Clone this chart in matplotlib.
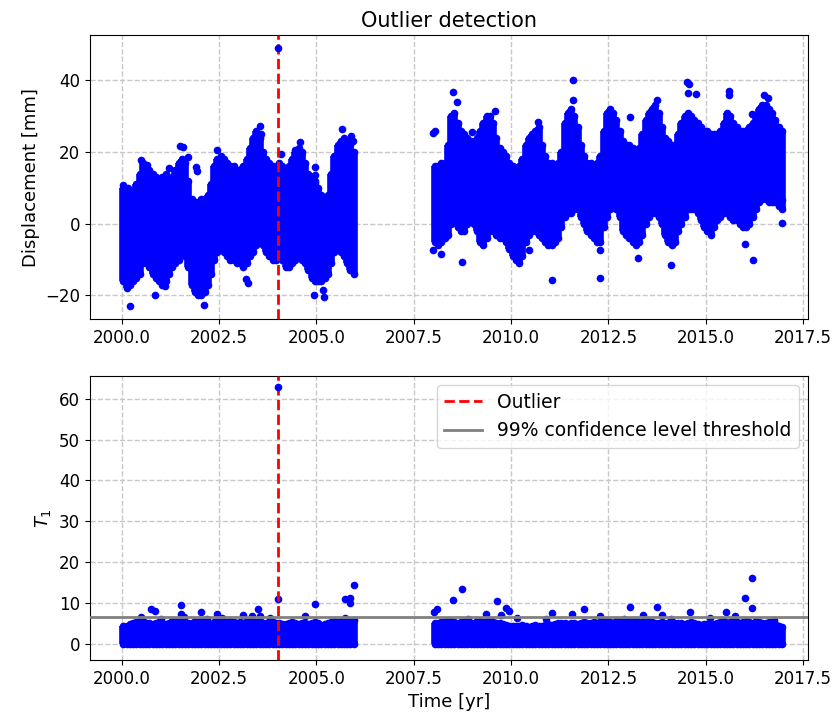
import numpy as np
import matplotlib
matplotlib.use("Agg")
import matplotlib.pyplot as plt

# monthly envelope of the daily displacement cloud [mm]
# part 1: Jan 2000 - Dec 2005, part 2: Jan 2008 - Dec 2016
disp1_hi = [10, 8, 7, 9, 11, 14, 17, 16, 15, 14, 13, 12,
            13, 14, 12, 13, 15, 17, 18, 17, 12, 7, 6, 6,
            7, 7, 8, 11, 16, 18, 19, 18, 17, 16, 16, 15,
            15, 16, 18, 21, 24, 26, 24, 20, 18, 17, 16, 16,
            17, 16, 15, 16, 18, 20, 21, 20, 17, 14, 13, 12,
            10, 8, 7, 8, 14, 19, 22, 23, 24, 23, 22, 20]
disp1_lo = [-16, -18, -17, -16, -15, -14, -11, -10, -12, -14, -15, -16,
            -17, -16, -14, -12, -11, -10, -8, -9, -12, -17, -19, -20,
            -20, -19, -17, -14, -10, -8, -7, -8, -9, -10, -10, -11,
            -11, -12, -11, -9, -8, -6, -5, -6, -8, -9, -10, -10,
            -9, -10, -12, -12, -11, -10, -9, -10, -11, -13, -15, -16,
            -16, -16, -15, -14, -11, -8, -7, -8, -9, -11, -13, -14]
disp2_hi = [16, 16, 17, 17, 22, 30, 31, 28, 26, 25, 24, 23,
            22, 24, 26, 28, 30, 30, 28, 24, 21, 20, 19, 17,
            16, 15, 16, 18, 22, 24, 25, 26, 27, 22, 19, 17,
            17, 16, 17, 20, 28, 31, 32, 30, 27, 22, 19, 17,
            17, 16, 17, 19, 26, 31, 32, 31, 29, 26, 23, 22,
            22, 21, 20, 21, 25, 29, 31, 32, 33, 31, 27, 24,
            23, 22, 22, 25, 28, 30, 31, 30, 29, 28, 27, 26,
            26, 25, 25, 25, 26, 28, 31, 30, 28, 27, 26, 26,
            26, 27, 28, 30, 32, 33, 33, 32, 31, 29, 27, 26]
disp2_lo = [-5, -6, -5, -4, -3, 0, 1, -1, -2, -2, 0, 1,
            0, -2, -5, -6, -4, -2, -1, -3, -4, -4, -5, -7,
            -9, -10, -11, -9, -5, -3, -2, -2, -3, -4, -5, -6,
            -6, -5, -4, -1, 2, 3, 3, 4, 4, 2, 0, -2,
            -3, -4, -5, -5, -1, 2, 4, 6, 4, 2, -2, -3,
            -4, -5, -6, -5, -3, 0, 2, 3, 3, 2, 0, -3,
            -5, -6, -5, -2, 0, 2, 4, 4, 4, 3, 1, -1,
            -2, -3, -1, 1, 2, 3, 3, 2, 1, 1, 0, -1,
            -1, 0, 2, 4, 6, 7, 7, 6, 6, 6, 5, 4]

# isolated displacement points outside the dense cloud
disp_pt_t = [2000.02, 2000.15, 2000.2, 2000.5, 2000.65, 2000.85, 2001.1, 2001.2,
             2001.5, 2001.56, 2001.7, 2001.9, 2001.92, 2002.1, 2002.45, 2003.2,
             2003.25, 2003.55, 2003.58, 2004.08, 2004.45, 2004.58, 2004.96,
             2004.96, 2004.96, 2004.95, 2005.2, 2005.17, 2005.65, 2005.9, 2005.93,
             2008.0, 2008.05, 2008.0, 2008.2, 2008.5, 2008.6, 2008.74, 2009.0,
             2009.6, 2010.45, 2010.7, 2011.05, 2011.58, 2011.6, 2012.29, 2012.28,
             2013.05, 2013.25, 2013.76, 2014.12, 2014.53, 2014.56, 2014.55,
             2014.75, 2015.6, 2015.6, 2016.0, 2016.21, 2016.2, 2016.5, 2016.6,
             2016.97, 2016.97]
disp_pt_v = [10.8, 10, -23, 17.7, 16.5, -20, -17.5, 15.5,
             21.7, 21.5, 18.6, 15.8, 14.8, -22.8, 20.5, -15.5,
             -16.5, 27.4, 25, 19.5, 20.6, 22.8, 15.8,
             13.5, 11.5, -20, -20.5, -18.5, 26.4, 24.5, 23,
             25.3, 25.8, -7.4, -8.4, 36.7, 34, -10.7, 25.5,
             31.4, -7.3, 28.4, -15.8, 40, 34.6, -15, -7.4,
             29.8, -9.5, 34.4, -11.4, 39.5, 39, 36.5,
             36.3, 37, 35.8, -5.6, -10.2, 30.7, 36, 35,
             0.2, 6.5]

# monthly upper edge of the dense T1 band (lower edge is 0)
t1_1_top = [4.3, 4.5, 4.8, 5.0, 5.3, 5.8, 5.6, 5.2, 5.0, 4.8, 5.1, 5.3,
            5.0, 4.9, 5.2, 5.5, 5.6, 5.4, 5.8, 5.3, 5.0, 5.2, 5.5, 5.4,
            5.6, 5.2, 5.0, 4.9, 5.3, 5.5, 5.2, 5.0, 5.4, 5.6, 5.3, 5.1,
            5.4, 5.2, 5.5, 5.7, 5.6, 5.3, 5.5, 5.1, 5.0, 5.2, 5.4, 5.0,
            5.2, 4.9, 4.8, 5.0, 5.3, 5.1, 4.9, 5.2, 5.0, 4.8, 5.1, 5.3,
            5.0, 4.7, 4.9, 5.2, 5.4, 5.6, 5.3, 5.5, 5.7, 5.4, 5.6, 5.8]
t1_2_top = [5.2, 5.0, 5.4, 5.6, 5.8, 5.5, 5.3, 5.1, 5.4, 5.6, 5.3, 5.0,
            5.2, 5.5, 5.7, 5.4, 5.6, 5.8, 5.3, 5.1, 5.0, 4.8, 4.6, 4.5,
            4.4, 4.3, 4.5, 4.6, 4.4, 4.2, 4.5, 4.7, 4.5, 4.3, 4.6, 4.8,
            4.7, 4.9, 5.0, 5.2, 5.1, 4.9, 5.2, 5.0, 4.8, 5.1, 5.3, 5.0,
            5.2, 5.4, 5.1, 5.3, 5.5, 5.6, 5.4, 5.2, 5.5, 5.7, 5.4, 5.3,
            5.5, 5.6, 5.8, 5.4, 5.3, 5.5, 5.7, 5.4, 5.2, 5.0, 5.3, 5.1,
            5.0, 4.8, 5.0, 5.2, 5.1, 4.9, 5.1, 5.3, 5.0, 4.8, 4.7, 4.9,
            4.8, 4.6, 4.9, 5.1, 5.3, 5.5, 5.2, 5.4, 5.6, 5.3, 5.1, 5.4,
            5.6, 5.4, 5.2, 5.5, 5.3, 5.0, 5.2, 5.4, 5.1, 4.8, 4.5, 4.2]

# T1 points sticking out of the band
t1_pt_t = [2000.5, 2000.74, 2000.85, 2001.0, 2001.52, 2001.52, 2001.6, 2002.04,
           2002.2, 2002.45, 2002.58, 2003.12, 2003.35, 2003.5, 2003.56, 2003.8,
           2004.0, 2004.7, 2004.97, 2005.74, 2005.87, 2005.87, 2005.96, 2005.74,
           2008.03, 2008.11, 2008.5, 2008.74, 2008.9, 2009.35, 2009.63, 2009.74,
           2009.86, 2009.95, 2010.15, 2010.9, 2011.06, 2011.57, 2011.87, 2012.28,
           2012.9, 2013.06, 2013.4, 2013.76, 2013.88, 2014.1, 2014.6, 2015.1,
           2015.52, 2015.75, 2016.0, 2016.2, 2016.2, 2016.76]
t1_pt_v = [6.6, 8.6, 8.0, 6.2, 9.5, 7.2, 6.5, 7.7,
           6.0, 7.2, 6.4, 7.0, 6.8, 8.6, 6.9, 6.3,
           11.1, 6.9, 9.7, 11.0, 11.2, 10.0, 14.5, 6.4,
           7.7, 8.6, 10.8, 13.4, 6.0, 7.3, 10.4, 7.0,
           8.7, 8.0, 6.3, 6.0, 7.6, 7.3, 8.5, 6.9,
           6.2, 9.0, 7.0, 9.0, 7.0, 6.1, 7.8, 6.3,
           7.8, 6.8, 11.3, 16.2, 8.8, 5.9]

outlier_t = 2004.0
outlier_disp = 49.0
outlier_t1 = 62.8
threshold = 6.63

t1_month = 2000 + (np.arange(len(disp1_hi)) + 0.5) / 12
t2_month = 2008 + (np.arange(len(disp2_hi)) + 0.5) / 12
t_month = np.concatenate([t1_month, t2_month])
disp_hi = np.array(disp1_hi + disp2_hi, dtype=float)
disp_lo = np.array(disp1_lo + disp2_lo, dtype=float)
t1_top = np.array(t1_1_top + t1_2_top)

blue = "#0000ff"
dot = 5.5  # marker diameter in points
s_dot = dot ** 2

fig, (ax1, ax2) = plt.subplots(2, 1, figsize=(8.4, 7.18), dpi=100)
fig.subplots_adjust(left=0.107, right=0.962, top=0.951, bottom=0.081, hspace=0.2)

# top panel: displacement cloud (dense range per month + rounded edges)
ax1.vlines(t_month, disp_lo, disp_hi, color=blue, lw=dot, zorder=2)
ax1.scatter(t_month, disp_hi, s=s_dot, color=blue, lw=0, zorder=2)
ax1.scatter(t_month, disp_lo, s=s_dot, color=blue, lw=0, zorder=2)
ax1.scatter(disp_pt_t, disp_pt_v, s=s_dot, color=blue, lw=0, zorder=2)
ax1.axvline(outlier_t, color="red", ls="--", lw=2, zorder=3)
ax1.scatter([outlier_t], [outlier_disp], s=s_dot, color=blue, lw=0, zorder=4)
ax1.set_xlim(1999.18, 2017.63)
ax1.set_ylim(-26.6, 52.6)
ax1.set_yticks([-20, 0, 20, 40])
ax1.set_xticks(np.arange(2000, 2018, 2.5))
ax1.set_ylabel("Displacement [mm]", fontsize=13)
ax1.set_title("Outlier detection", fontsize=15)
ax1.grid(True, ls="--", color="#c8c8c8", lw=1)
ax1.set_axisbelow(True)

# bottom panel: T1 statistic
ax2.vlines(t_month, 0, t1_top, color=blue, lw=dot, zorder=2)
ax2.scatter(t_month, t1_top, s=s_dot, color=blue, lw=0, zorder=2)
ax2.scatter(t_month, np.zeros_like(t1_top), s=s_dot, color=blue, lw=0, zorder=2)
ax2.scatter(t1_pt_t, t1_pt_v, s=s_dot, color=blue, lw=0, zorder=2)
ax2.axvline(outlier_t, color="red", ls="--", lw=2, zorder=3, label="Outlier")
ax2.axhline(threshold, color="grey", lw=2, zorder=3,
            label="99% confidence level threshold")
ax2.scatter([outlier_t], [outlier_t1], s=s_dot, color=blue, lw=0, zorder=4)
ax2.set_xlim(1999.18, 2017.63)
ax2.set_ylim(-3.9, 65.6)
ax2.set_yticks(np.arange(0, 61, 10))
ax2.set_xticks(np.arange(2000, 2018, 2.5))
ax2.set_ylabel("$T_1$", fontsize=13)
ax2.set_xlabel("Time [yr]", fontsize=13)
ax2.grid(True, ls="--", color="#c8c8c8", lw=1)
ax2.set_axisbelow(True)
ax2.legend(loc="upper right", fontsize=13.5)

for ax in (ax1, ax2):
    ax.tick_params(labelsize=12)

plt.savefig("out.png", dpi=100)
